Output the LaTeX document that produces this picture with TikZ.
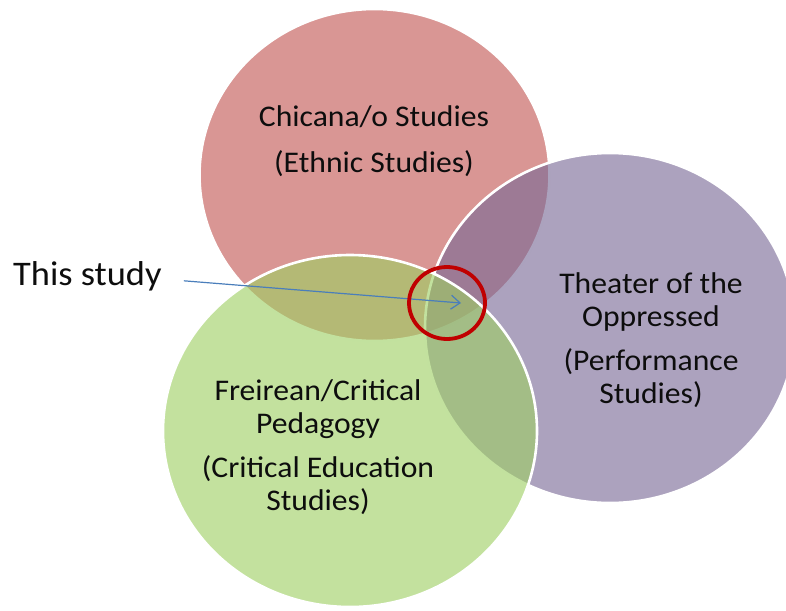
\documentclass[tikz,border=0pt]{standalone}
\usepackage{fontspec}
\setmainfont{Carlito}[FakeStretch=1.055]
\usetikzlibrary{arrows.meta}

\definecolor{redfill}{RGB}{217,150,148}
\definecolor{purplefill}{RGB}{121,105,150}
\definecolor{greenfill}{RGB}{158,207,99}
\definecolor{ringred}{RGB}{192,0,0}
\definecolor{arrowblue}{RGB}{74,126,187}
\definecolor{textgray}{RGB}{13,13,13}

\tikzset{
  setbox/.style={draw=white, line width=2.6pt},
  label/.style={inner sep=0pt, align=center, text=textgray,
    font=\fontsize{30}{32.5}\selectfont},
  pointer/.style={draw=arrowblue, line width=1.2pt,
    -{Straight Barb[length=9pt, width=14pt, line width=1.2pt]}},
  focus/.style={draw=ringred, line width=3.8pt}
}

\begin{document}
\begin{tikzpicture}[x=1pt, y=-1pt]
  \useasboundingbox (0,0) rectangle (786,610);

  % the three fields
  \path[setbox, fill=redfill] (374.5,175) ellipse [x radius=175pt, y radius=166pt];
  \path[setbox, fill=purplefill, fill opacity=0.62] (610,328) ellipse [x radius=185pt, y radius=175pt];
  \path[setbox, fill=greenfill, fill opacity=0.62] (350,431) ellipse [x radius=187pt, y radius=176pt];

  % field names
  \node[label] (chicana) at (374,141) {Chicana/o Studies\\[13pt](Ethnic Studies)};
  \node[label] (theater) at (651,340) {Theater of the\\Oppressed\\[12pt](Performance\\Studies)};
  \node[label] (freire) at (318,447) {Freirean/Critical\\Pedagogy\\[12pt](Critical Education\\Studies)};

  % where the three meet
  \node[label, anchor=base west, font=\fontsize{34.5}{38}\selectfont] (study) at (13,285) {This study};
  \coordinate (meet) at (461,303);
  \draw[pointer] ([xshift=22pt, yshift=-5pt]study.east) -- (meet);
  \path[focus] (447,303) ellipse [x radius=38pt, y radius=36pt];
\end{tikzpicture}
\end{document}
